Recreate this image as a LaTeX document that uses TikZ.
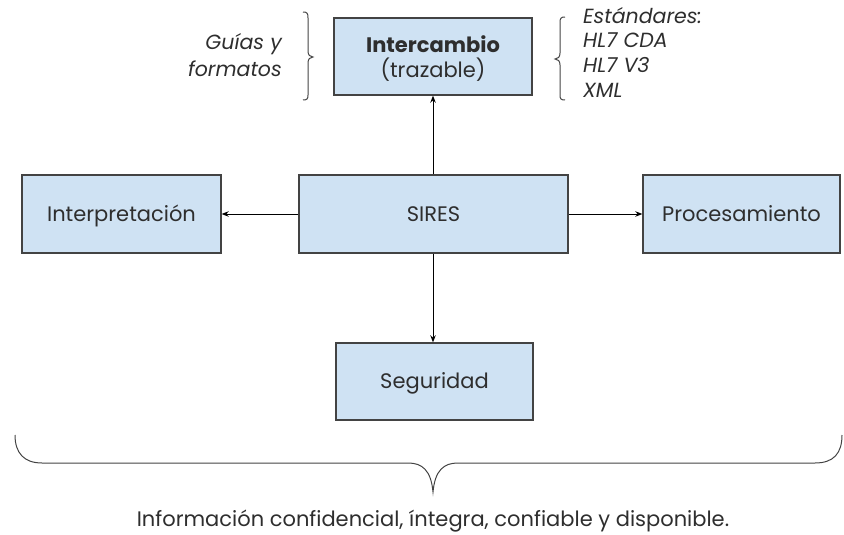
\documentclass[tikz,border=0pt]{standalone}
\usepackage{fontspec}
\setmainfont{Poppins}
\usetikzlibrary{arrows.meta}
\definecolor{boxfill}{HTML}{CFE2F3}
\definecolor{boxline}{HTML}{434343}
\definecolor{txt}{HTML}{2E2E2E}
\tikzset{
  blockbox/.style={draw=boxline, line width=1.4pt, fill=boxfill, inner sep=0pt, text=txt,
    font=\fontsize{21}{25}\selectfont, text height=14.6pt, text depth=0pt},
  conn/.style={line width=0.9pt, draw=black, -{Stealth[length=7pt,width=5.5pt]}},
  bracepath/.style={line width=1pt, draw=boxline},
  plaintext/.style={text=txt, font=\fontsize{21}{25}\selectfont, inner sep=0pt},
  sidetext/.style={text=txt, font=\fontsize{20.5}{25}\itshape\selectfont, inner sep=0pt}
}
\begin{document}
\begin{tikzpicture}[x=1pt,y=-1pt]
\useasboundingbox (0,0) rectangle (844,535);
% boxes
\node[blockbox, minimum width=198pt, minimum height=77pt] (inter) at (433,56.5) {};
\node[plaintext, anchor=base, font=\fontsize{21}{25}\bfseries\selectfont] (interA) at (433,53) {Intercambio};
\node[plaintext, anchor=base] (interB) at (433,77.5) {(trazable)};
\node[blockbox, minimum width=269pt, minimum height=78pt] (sires) at (433.5,214) {SIRES};
\node[blockbox, minimum width=199pt, minimum height=78pt] (interp) at (121.5,214) {Interpretación};
\node[blockbox, minimum width=197pt, minimum height=78pt] (proc) at (741.5,214) {Procesamiento};
\node[blockbox, minimum width=197pt, minimum height=77pt] (seg) at (434.5,381.5) {Seguridad};
% connectors
\draw[conn] (sires.north -| inter.south) -- (inter.south);
\draw[conn] (sires.west) -- (interp.east);
\draw[conn] (sires.east) -- (proc.west);
\draw[conn] (sires.south -| inter.south) -- (inter.south |- seg.north);
% side texts
\node[sidetext, anchor=base east] (guiasA) at (282,50) {Guías y};
\node[sidetext, anchor=base east] (guiasB) at (282,77) {formatos};
\node[sidetext, anchor=base west] (estA) at (583,24) {Estándares:};
\node[sidetext, anchor=base west] (estB) at (583,48) {HL7 CDA};
\node[sidetext, anchor=base west] (estC) at (583,72.5) {HL7 V3};
\node[sidetext, anchor=base west] (estD) at (583,97) {XML};
% small braces
\draw[bracepath] (303,12) .. controls (307,12) and (308,13) .. (308,18) -- (308,51)
  .. controls (308,55) and (310,57) .. (313,57)
  .. controls (310,57) and (308,59) .. (308,63) -- (308,95)
  .. controls (308,99) and (307,100) .. (303,100);
\draw[bracepath] (565,17) .. controls (561,17) and (560,18) .. (560,23) -- (560,53)
  .. controls (560,57) and (558,59) .. (555,59)
  .. controls (558,59) and (560,61) .. (560,65) -- (560,95)
  .. controls (560,99) and (561,100) .. (565,100);
% big brace
\coordinate (bl) at (15,435);
\coordinate (br) at (842,435);
\coordinate (tip) at (433,492);
\draw[bracepath] (bl) .. controls (15,453) and (24,463) .. (42,463) -- (408,463)
  .. controls (422,463) and (431,470) .. (tip)
  .. controls (435,470) and (444,463) .. (458,463) -- (815,463)
  .. controls (834,463) and (842,453) .. (br);
\node[plaintext, anchor=base] (info) at (433,526)
  {Información confidencial, íntegra, confiable y disponible.};
\end{tikzpicture}
\end{document}
